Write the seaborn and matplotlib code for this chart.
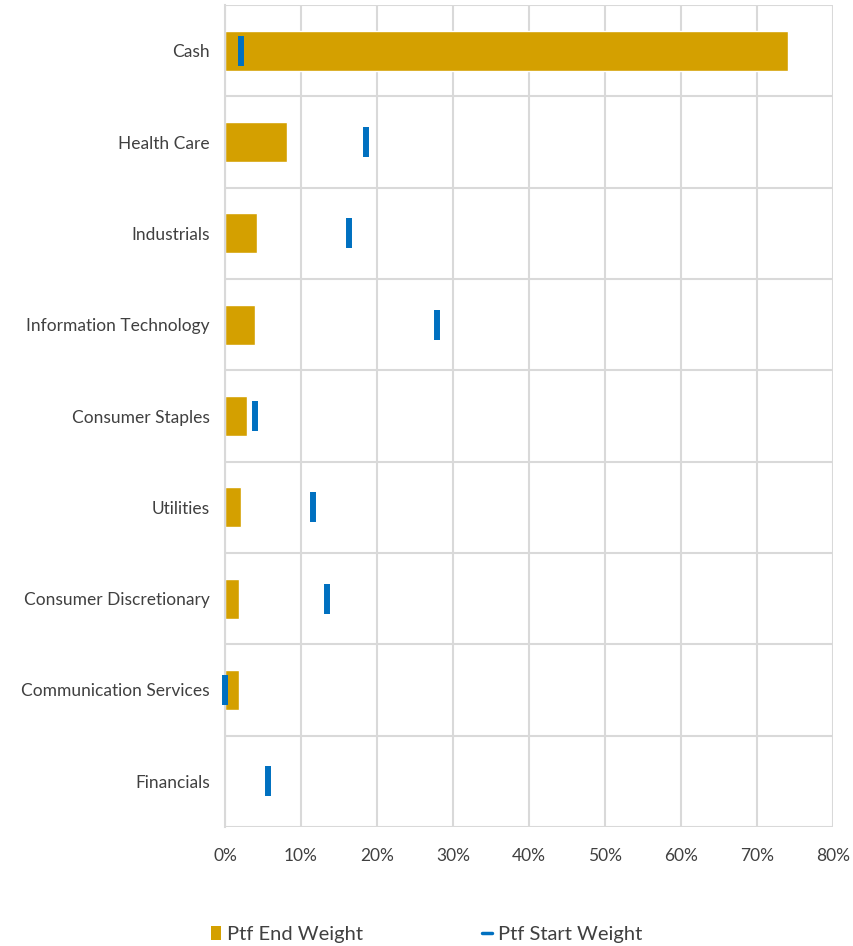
import numpy as np
import pandas as pd
import matplotlib
matplotlib.use("Agg")
import matplotlib.pyplot as plt
from matplotlib.lines import Line2D
from matplotlib.patches import Patch
from matplotlib.ticker import PercentFormatter
import seaborn as sns

# Sector weights (%)
sectors = ['Cash', 'Health Care', 'Industrials', 'Information Technology',
           'Consumer Staples', 'Utilities', 'Consumer Discretionary',
           'Communication Services', 'Financials']
end_weight = [74.1, 8.2, 4.2, 3.9, 2.9, 2.1, 1.9, 1.9, 0.0]
start_weight = [2.1, 18.6, 16.3, 27.9, 3.9, 11.6, 13.4, 0.0, 5.6]

df = pd.DataFrame({'Sector': sectors, 'End': end_weight, 'Start': start_weight})

sns.set_theme(style="white")
plt.rcParams['font.family'] = ['Lato', 'DejaVu Sans']

gold = '#D4A000'
blue = '#0070C0'
grid_c = '#D9D9D9'

fig = plt.figure(figsize=(8.54, 9.46), dpi=100)
ax = fig.add_axes([0.2635, 0.1258, 0.7115, 0.8689])

sns.barplot(data=df, x='End', y='Sector', orient='h', color=gold,
            saturation=1, width=0.44, ax=ax)
ax.plot(df['Start'], np.arange(len(df)), linestyle='none', marker='|',
        markersize=22, markeredgewidth=4.3, color=blue, zorder=5,
        clip_on=False)

ax.set_xlim(0, 80)
ax.set_ylim(len(df) - 0.5, -0.5)
ax.set_xticks(np.arange(0, 81, 10))
ax.xaxis.set_major_formatter(PercentFormatter(decimals=0))
ax.set_yticks(np.arange(-0.5, len(df), 1), minor=True)
ax.grid(True, axis='x', which='major', color=grid_c, linewidth=1.5)
ax.grid(True, axis='y', which='minor', color=grid_c, linewidth=1.5)
ax.grid(False, axis='y', which='major')
ax.set_axisbelow(True)
for s in ['top', 'right', 'bottom']:
    ax.spines[s].set_visible(False)
ax.spines['left'].set_color(grid_c)
ax.spines['left'].set_linewidth(1.5)
ax.tick_params(axis='both', which='both', length=0, labelsize=12.5,
               labelcolor='#404040')
ax.tick_params(axis='x', pad=15)
ax.tick_params(axis='y', pad=11)
ax.set_xlabel('')
ax.set_ylabel('')

handles = [Patch(facecolor=gold, edgecolor='none'),
           Line2D([], [], color=blue, linewidth=2.5)]
fig.legend(handles, ['Ptf End Weight', 'Ptf Start Weight'], loc='lower center',
           bbox_to_anchor=(0.5, -0.016), ncol=2, frameon=False, fontsize=14.5,
           handlelength=0.5, handleheight=0.7, handletextpad=0.3,
           columnspacing=5.9, labelcolor='#404040')

fig.savefig('out.png', dpi=100)
